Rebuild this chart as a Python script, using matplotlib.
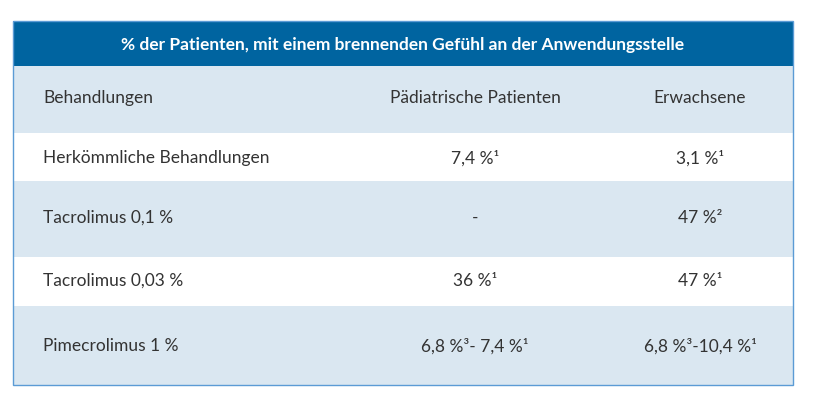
import matplotlib
matplotlib.use('Agg')
import matplotlib.pyplot as plt
from matplotlib.patches import Rectangle

#-------------------------------------------------------------------------
title = '% der Patienten, mit einem brennenden Gefühl an der Anwendungsstelle'
col_labels = ['Behandlungen', 'Pädiatrische Patienten', 'Erwachsene']
treatments = ['Herkömmliche Behandlungen', 'Tacrolimus 0,1 %',
              'Tacrolimus 0,03 %', 'Pimecrolimus 1 %']
paediatric = ['7,4 %¹', '-', '36 %¹', '6,8 %³- 7,4 %¹']
adults = ['3,1 %¹', '47 %²', '47 %¹', '6,8 %³-10,4 %¹']

# row layout in pixels (top, bottom, text y)
rows = [(66, 133, 98), (133, 181, 158), (181, 257, 218),
        (257, 306, 281), (306, 385, 346)]
blue = '#0064A0'
light = '#DAE7F1'
txtc = '#333333'

#-------------------------------------------------------------------------
plt.rcParams['font.family'] = ['Lato', 'DejaVu Sans']
fig = plt.figure(figsize=(8.15, 4.08), dpi=100)
ax = fig.add_axes([0, 0, 1, 1])
ax.set_xlim(0, 815)
ax.set_ylim(408, 0)
ax.axis('off')

x0, x1 = 13, 793
ax.add_patch(Rectangle((x0, 21), x1 - x0, 45, color=blue, lw=0))
ax.text((x0 + x1) / 2, 45, title, color='white', fontsize=12.5,
        fontweight='bold', ha='center', va='center')

table = [col_labels] + [[t, p, a] for t, p, a in zip(treatments, paediatric, adults)]
for i, ((top, bot, ty), vals) in enumerate(zip(rows, table)):
  fc = light if i % 2 == 0 else 'white'
  ax.add_patch(Rectangle((x0, top), x1 - x0, bot - top, color=fc, lw=0))
  ax.text(43, ty, vals[0], color=txtc, fontsize=12.5, ha='left', va='center')
  ax.text(475, ty, vals[1], color=txtc, fontsize=12.5, ha='center', va='center')
  ax.text(700, ty, vals[2], color=txtc, fontsize=12.5, ha='center', va='center')

ax.add_patch(Rectangle((x0, 21), x1 - x0, 385 - 21, fill=False,
                       ec='#5B9BD5', lw=1))

fig.savefig('out.png', dpi=100)
